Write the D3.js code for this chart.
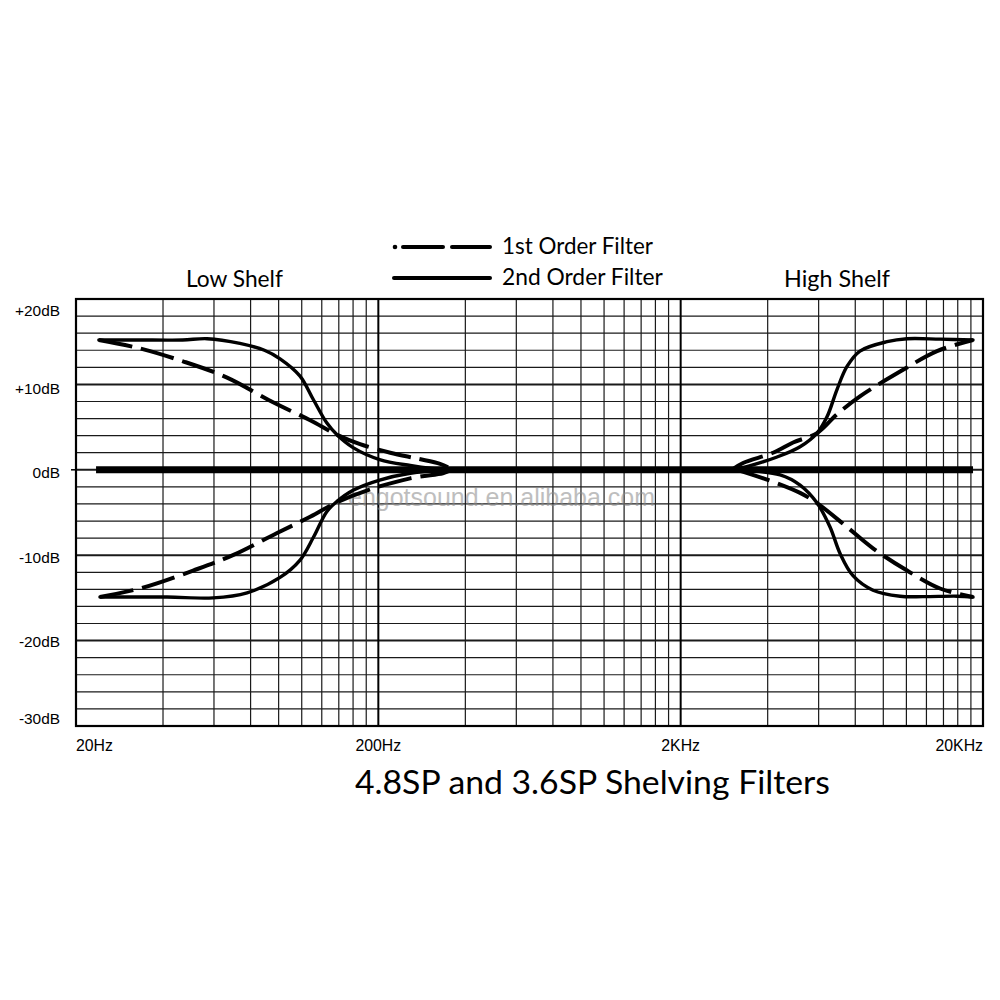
<!DOCTYPE html>
<html><head><meta charset="utf-8">
<script src="https://cdn.jsdelivr.net/npm/d3@7"></script>
<style>
html,body{margin:0;padding:0;background:#fff;}
svg{display:block;}
</style></head>
<body>
<svg id="chart" width="1000" height="1000"></svg>
<script>
// ---- data ----
const freqTicks = [20, 200, 2000, 20000];
const freqTickLabels = ["20Hz", "200Hz", "2KHz", "20KHz"];
const dbTicks = [20, 10, 0, -10, -20, -30];
const dbTickLabels = ["+20dB", "+10dB", "0dB", "-10dB", "-20dB", "-30dB"];
const decadeStarts = [20, 200, 2000];
const gridMultipliers = [1.94, 2.86, 3.78, 4.68, 5.58, 6.5, 7.4, 8.25, 9.12];
const dbGridLines = [-30,-28,-26,-24,-22,-20,-18,-16,-14,-12,-10,-8,-6,-4,-2,0,2,4,6,8,10,12,14,16,18,20];
const dbMajorLines = [-20, -10, 0, 10];
const legendLabels = ["1st Order Filter", "2nd Order Filter"];
const sectionLabels = ["Low Shelf", "High Shelf"];
const titleText = "4.8SP and 3.6SP Shelving Filters";
const watermark = "engotsound.en.alibaba.com";

const flatLine = [[23.3, 0], [18538, 0]];

const lowBoost2nd = [[23.8,15.2],[31.8,15.2],[45,15.2],[54.3,15.35],[69.7,14.8],[84,14.0],[94.6,13.0],[110,11.0],[122,8.2],[135,5.5],[146,4.1],[165,2.6],[202,1.2],[255,0.5],[300,0.15],[338,0]];
const lowBoost1st = [[23.8,15.2],[31.8,14.3],[45.2,12.7],[63.2,10.8],[89.7,7.9],[119,5.8],[146,4.1],[174,3.0],[219,2.0],[270,1.3],[320,0.7],[340,0.3]];
const lowCut2nd = [[24,-14.9],[40,-14.9],[56.8,-15.0],[73.6,-14.4],[94.6,-12.6],[110,-10.6],[122,-7.9],[135,-4.9],[146,-3.7],[165,-2.4],[202,-1.2],[255,-0.4],[338,0]];
const lowCut1st = [[24,-14.9],[33.3,-13.8],[48.8,-11.8],[66.1,-10.0],[92.5,-7.4],[119,-5.5],[146,-3.8],[184,-2.4],[255,-1.0],[327,-0.4],[340,-0.2]];

const highBoost2nd = [[2950,0],[3400,0.5],[4168,1.5],[4966,2.7],[5652,4.3],[6096,6.2],[6578,9.4],[7100,12.1],[7834,13.9],[9632,15.0],[11220,15.35],[14422,15.3],[18538,15.2]];
const highBoost1st = [[2950,0],[3216,0.8],[4044,2.0],[4710,3.2],[5652,4.3],[6578,6.5],[7834,8.6],[10636,11.5],[14094,13.9],[18538,15.2]];
const highCut2nd = [[3073,0],[4265,-0.6],[4966,-1.8],[5652,-3.9],[6238,-6.7],[6734,-9.8],[7430,-12.4],[8654,-14.1],[10636,-14.8],[12678,-14.85],[16418,-14.8],[18538,-14.9]];
const highCut1st = [[3073,0],[4044,-1.4],[4966,-2.7],[5652,-3.9],[7100,-6.7],[8654,-9.2],[11220,-11.8],[14422,-13.9],[18538,-14.9]];

// ---- layout ----
const svg = d3.select("#chart");
const L = 76, R = 983, T = 299, B = 726;
const x = d3.scaleLog().domain([20, 20000]).range([L, R]);
const y = d3.scaleLinear().domain([-30, 20]).range([B, T]);
const gothic = "'Lato', 'Noto Sans', 'DejaVu Sans', sans-serif";
const arial = "'Liberation Sans', Arial, sans-serif";

function fitText(sel, w) {
  const cur = sel.node().getComputedTextLength();
  const fs = parseFloat(sel.attr("font-size"));
  sel.attr("font-size", fs * w / cur);
}

const grid = svg.append("g");
const minorFreqs = [];
decadeStarts.forEach(d => gridMultipliers.forEach(m => minorFreqs.push(d * m)));
grid.selectAll(".vmin").data(minorFreqs).join("line")
  .attr("x1", d => x(d)).attr("x2", d => x(d)).attr("y1", T).attr("y2", B)
  .attr("stroke", "#1a1a1a").attr("stroke-width", 1.2);
grid.selectAll(".hmin").data(dbGridLines).join("line")
  .attr("x1", L).attr("x2", R).attr("y1", d => y(d)).attr("y2", d => y(d))
  .attr("stroke", "#1a1a1a").attr("stroke-width", d => dbMajorLines.includes(d) ? 2 : 1.2);
grid.selectAll(".vmaj").data(freqTicks.slice(1, 3)).join("line")
  .attr("x1", d => x(d)).attr("x2", d => x(d)).attr("y1", T).attr("y2", B)
  .attr("stroke", "#000").attr("stroke-width", 2);
grid.append("rect").attr("x", L).attr("y", T).attr("width", R - L).attr("height", B - T)
  .attr("fill", "none").attr("stroke", "#000").attr("stroke-width", 2.2);
grid.append("line").attr("x1", L - 5).attr("x2", L).attr("y1", y(0)).attr("y2", y(0))
  .attr("stroke", "#000").attr("stroke-width", 1.5);

// watermark
svg.append("text").attr("x", 348).attr("y", 506).text(watermark)
  .attr("font-family", arial).attr("font-size", 25).attr("fill", "#8a8a8a").attr("opacity", 0.55)
  .attr("textLength", 307).attr("lengthAdjust", "spacingAndGlyphs");

// axis labels
const yOff = {"20": 17, "10": 10, "0": 8, "-10": 8, "-20": 6, "-30": -2};
const yLabels = svg.append("g").selectAll("text").data(dbTicks).join("text")
  .attr("font-family", arial).attr("font-size", 15).attr("fill", "#000").attr("text-anchor", "end")
  .attr("x", 60).attr("y", d => y(d) + yOff[d])
  .text((d, i) => dbTickLabels[i]);
const yScaleF = 45 / yLabels.filter((d, i) => i === 0).node().getComputedTextLength();
yLabels.attr("font-size", 15 * yScaleF);

const anchors = ["start", "middle", "middle", "end"];
const xLabels = svg.append("g").selectAll("text").data(freqTicks).join("text")
  .attr("font-family", arial).attr("font-size", 15).attr("fill", "#000")
  .attr("x", d => x(d)).attr("y", 751)
  .attr("text-anchor", (d, i) => anchors[i])
  .text((d, i) => freqTickLabels[i]);
const xScaleF = 37 / xLabels.filter((d, i) => i === 0).node().getComputedTextLength();
xLabels.attr("font-size", 15 * xScaleF);

// curves
const line = d3.line().x(d => x(d[0])).y(d => y(d[1])).curve(d3.curveCatmullRom.alpha(0.5));
const curves = svg.append("g").attr("fill", "none").attr("stroke", "#000").attr("stroke-linecap", "round").attr("stroke-linejoin", "round");
curves.append("path").datum(flatLine).attr("d", line).attr("stroke-width", 7).attr("stroke-linecap", "butt");
[lowBoost2nd, lowCut2nd, highBoost2nd, highCut2nd].forEach(s => {
  curves.append("path").datum(s).attr("d", line).attr("stroke-width", 3.4);
});
[lowBoost1st, lowCut1st, highBoost1st, highCut1st].forEach(s => {
  curves.append("path").datum(s).attr("d", line).attr("stroke-width", 4)
    .attr("stroke-dasharray", "34,9").attr("stroke-linecap", "butt");
});

// legend
const lg = svg.append("g");
lg.append("circle").attr("cx", 395).attr("cy", 247).attr("r", 2.3).attr("fill", "#000");
lg.append("line").attr("x1", 403).attr("x2", 443).attr("y1", 247).attr("y2", 247).attr("stroke", "#000").attr("stroke-width", 4).attr("stroke-linecap", "round");
lg.append("line").attr("x1", 452).attr("x2", 490).attr("y1", 247).attr("y2", 247).attr("stroke", "#000").attr("stroke-width", 4).attr("stroke-linecap", "round");
lg.append("line").attr("x1", 394).attr("x2", 490).attr("y1", 278).attr("y2", 278).attr("stroke", "#000").attr("stroke-width", 4).attr("stroke-linecap", "round");

const t1 = lg.append("text").attr("x", 502).attr("y", 254).text(legendLabels[0])
  .attr("font-family", gothic).attr("font-size", 18).attr("fill", "#000");
fitText(t1, 151);
const t2 = lg.append("text").attr("x", 502).attr("y", 285).text(legendLabels[1])
  .attr("font-family", gothic).attr("font-size", 18).attr("fill", "#000");
fitText(t2, 161);

const s1 = svg.append("text").attr("x", 186).attr("y", 287).text(sectionLabels[0])
  .attr("font-family", gothic).attr("font-size", 18).attr("fill", "#000");
fitText(s1, 97);
const s2 = svg.append("text").attr("x", 784).attr("y", 287).text(sectionLabels[1])
  .attr("font-family", gothic).attr("font-size", 18).attr("fill", "#000");
fitText(s2, 106);

const tt = svg.append("text").attr("x", 355).attr("y", 794).text(titleText)
  .attr("font-family", gothic).attr("font-size", 26).attr("fill", "#000");
fitText(tt, 475);
</script>
</body></html>
